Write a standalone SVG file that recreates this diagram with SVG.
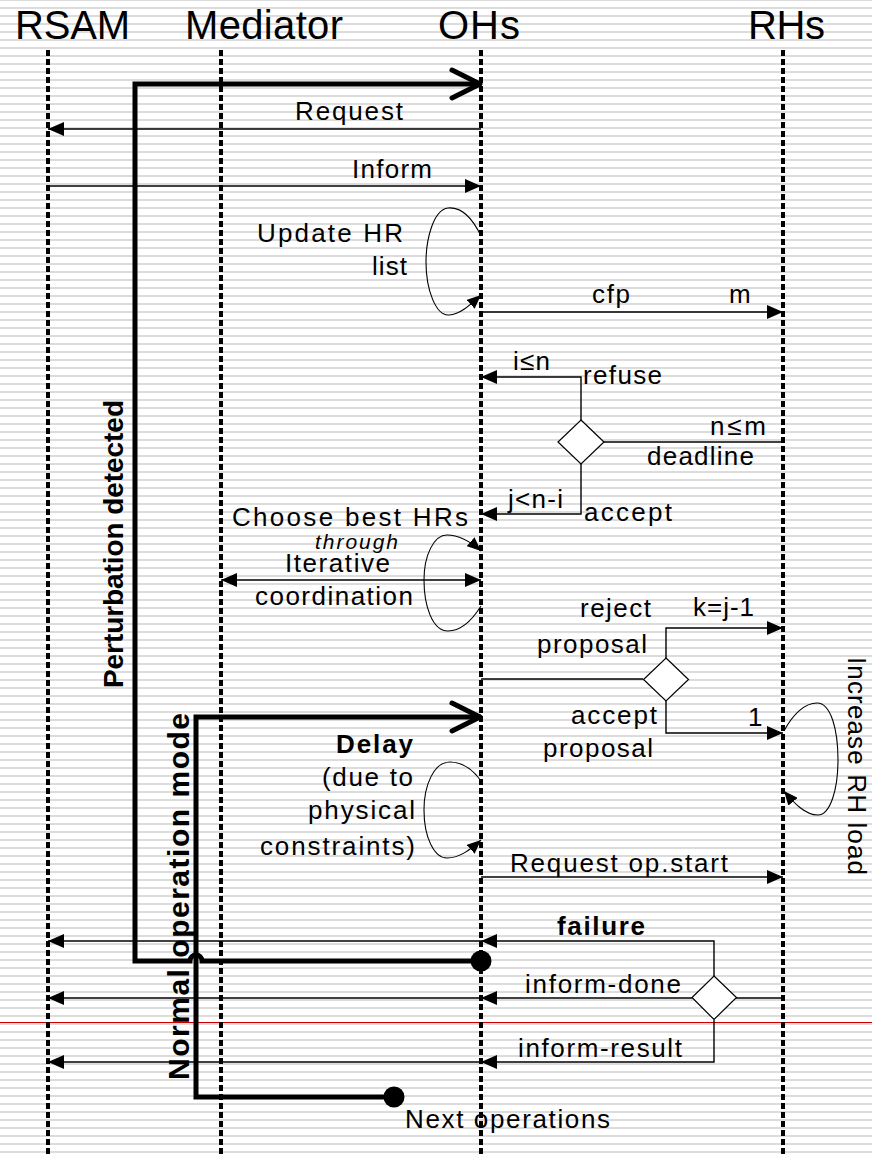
<svg xmlns="http://www.w3.org/2000/svg" width="872" height="1154" viewBox="0 0 872 1154">
<defs>
<pattern id="stripes" width="8" height="8" y="-1" patternUnits="userSpaceOnUse"><rect width="8" height="2" fill="#dcdcdc"/></pattern>
<marker id="ah" viewBox="0 0 16 14" refX="16" refY="7" markerWidth="16" markerHeight="14" markerUnits="userSpaceOnUse" orient="auto-start-reverse"><path d="M0,0 L16,7 L0,14 z" fill="#000"/></marker>
<marker id="ahs" viewBox="0 0 14 12" refX="14" refY="6" markerWidth="14" markerHeight="12" markerUnits="userSpaceOnUse" orient="auto"><path d="M0,0 L14,6 L0,12 z" fill="#000"/></marker>
</defs>
<style>
text{font-family:"Liberation Sans",Arial,sans-serif;fill:#000;}
.title{font-size:40px;}
.lbl{font-size:26px;}
.b{font-weight:bold;}
.it{font-style:italic;font-size:21px;}
.life{stroke:#000;stroke-width:4;stroke-dasharray:6 3;fill:none;}
.msg{stroke:#000;stroke-width:1.4;fill:none;}
.msgA{stroke:#000;stroke-width:1.4;fill:none;marker-end:url(#ah);}
.loop{stroke:#000;stroke-width:1.1;fill:none;marker-end:url(#ahs);}
.thick{stroke:#000;stroke-width:5;fill:none;stroke-linejoin:miter;}
.open{stroke:#000;stroke-width:5;fill:none;stroke-linecap:round;stroke-linejoin:round;}
.dia{fill:#fff;stroke:#000;stroke-width:1.2;}
</style>
<rect width="872" height="1154" fill="#fff"/>
<rect width="872" height="1154" fill="url(#stripes)"/>
<line x1="0" y1="1022.5" x2="872" y2="1022.5" stroke="#cc0000" stroke-width="1"/>

<g id="lifeline-rsam">
<text class="title" x="15" y="39" textLength="115" lengthAdjust="spacing">RSAM</text>
<line class="life" x1="48" y1="50" x2="48" y2="1154"/>
</g>
<g id="lifeline-mediator">
<text class="title" x="185" y="39" textLength="158" lengthAdjust="spacing">Mediator</text>
<line class="life" x1="221" y1="50" x2="221" y2="1154"/>
</g>
<g id="lifeline-ohs">
<text class="title" x="438" y="39" textLength="82" lengthAdjust="spacing">OHs</text>
<line class="life" x1="481" y1="50" x2="481" y2="1154"/>
</g>
<g id="lifeline-rhs">
<text class="title" x="748" y="39" textLength="77" lengthAdjust="spacing">RHs</text>
<line class="life" x1="783" y1="50" x2="783" y2="1154"/>
</g>

<g id="connectors">
<path class="msgA" d="M481,129 H48"/>
<path class="msgA" d="M48,186 H481"/>
<path class="loop" d="M481,236 C470,213 458,207 448,208 C433,210 426,240 426,262 C426,290 436,316 449,315 C461,314 471,304 481,295"/>
<path class="msgA" d="M481,312 H783"/>
<path class="msgA" d="M581,421 V377 H481"/>
<path class="msg" d="M604,442 H783"/>
<path class="msgA" d="M581,463 V514 H481"/>
<path class="loop" d="M481,606 C471,622 460,631 448,631 C432,631 424,605 424,580 C424,555 434,535 447,535 C460,535 472,543 481,551"/>
<path class="msgA" style="marker-start:url(#ah)" d="M221,580 H481"/>
<path class="msg" d="M481,679 H643"/>
<path class="msgA" d="M666,658 V628 H783"/>
<path class="msgA" d="M666,701 V733 H783"/>
<path class="loop" d="M784,731 C793,714 805,703 817,703 C831,703 838,730 838,760 C838,790 830,815 818,815 C805,815 794,803 784,791"/>
<path class="loop" d="M481,781 C471,767 460,762 450,762 C434,762 424,785 424,810 C424,837 434,858 447,858 C460,858 471,849 481,840"/>
<path class="msgA" d="M481,877 H783"/>
<path class="msg" d="M783,998 H736"/>
<path class="msgA" d="M714,976 V941 H481"/>
<path class="msgA" d="M481,941 H48"/>
<path class="msgA" d="M692,998 H481"/>
<path class="msgA" d="M481,998 H48"/>
<path class="msgA" d="M714,1020 V1062 H481"/>
<path class="msgA" d="M481,1062 H48"/>
<path class="thick" d="M481,84 H135 V961 H190 A6,6 0 0 1 202,961 H481"/>
<path class="open" d="M452,70 L480,84 L452,98"/>
<circle cx="481" cy="961" r="10.5" fill="#000"/>
<path class="thick" d="M481,717 H196 V1097 H394"/>
<path class="open" d="M452,703 L480,717 L452,731"/>
<circle cx="394" cy="1097" r="10.5" fill="#000"/>
</g>

<g id="decision-responses">
<path class="dia" d="M581,420 L604,442 L581,464 L558,442 z"/>
</g>
<g id="decision-proposal">
<path class="dia" d="M666,658 L688.5,679.5 L666,701 L643.5,679.5 z"/>
</g>
<g id="decision-result">
<path class="dia" d="M714,976 L736.5,997.5 L714,1019.5 L692,997.5 z"/>
</g>

<g id="labels">
<text class="lbl" x="295" y="120" textLength="108" lengthAdjust="spacing">Request</text>
<text class="lbl" x="352" y="178" textLength="80" lengthAdjust="spacing">Inform</text>
<text class="lbl" x="257" y="242" textLength="146" lengthAdjust="spacing">Update HR</text>
<text class="lbl" x="372" y="275" textLength="35" lengthAdjust="spacing">list</text>
<text class="lbl" x="592" y="303" textLength="38" lengthAdjust="spacing">cfp</text>
<text class="lbl" x="729" y="303" textLength="21" lengthAdjust="spacing">m</text>
<text class="lbl" x="513" y="370" textLength="37" lengthAdjust="spacing">i≤n</text>
<text class="lbl" x="583" y="384" textLength="79" lengthAdjust="spacing">refuse</text>
<text class="lbl" x="710" y="435" textLength="56" lengthAdjust="spacing">n≤m</text>
<text class="lbl" x="647" y="465" textLength="107" lengthAdjust="spacing">deadline</text>
<text class="lbl" x="508" y="508" textLength="55" lengthAdjust="spacing">j&lt;n-i</text>
<text class="lbl" x="584" y="521" textLength="88" lengthAdjust="spacing">accept</text>
<text class="lbl" x="232" y="526" textLength="236" lengthAdjust="spacing">Choose best HRs</text>
<text class="it" x="315" y="549" textLength="83" lengthAdjust="spacing">through</text>
<text class="lbl" x="285" y="572" textLength="105" lengthAdjust="spacing">Iterative</text>
<text class="lbl" x="255" y="605" textLength="158" lengthAdjust="spacing">coordination</text>
<text class="lbl" x="580" y="617" textLength="71" lengthAdjust="spacing">reject</text>
<text class="lbl" x="537" y="653" textLength="110" lengthAdjust="spacing">proposal</text>
<text class="lbl" x="693" y="616" textLength="61" lengthAdjust="spacing">k=j-1</text>
<text class="lbl" x="571" y="724" textLength="86" lengthAdjust="spacing">accept</text>
<text class="lbl" x="543" y="757" textLength="110" lengthAdjust="spacing">proposal</text>
<text class="lbl" x="748" y="726">1</text>
<text class="lbl b" x="336" y="753" textLength="77" lengthAdjust="spacing">Delay</text>
<text class="lbl" x="322" y="786" textLength="91" lengthAdjust="spacing">(due to</text>
<text class="lbl" x="308" y="819" textLength="107" lengthAdjust="spacing">physical</text>
<text class="lbl" x="260" y="855" textLength="155" lengthAdjust="spacing">constraints)</text>
<text class="lbl" x="510" y="872" textLength="218" lengthAdjust="spacing">Request op.start</text>
<text class="lbl b" x="557" y="935" textLength="88" lengthAdjust="spacing">failure</text>
<text class="lbl" x="525" y="993" textLength="156" lengthAdjust="spacing">inform-done</text>
<text class="lbl" x="518" y="1057" textLength="164" lengthAdjust="spacing">inform-result</text>
<text class="lbl" x="405" y="1128" textLength="205" lengthAdjust="spacing">Next operations</text>
<text class="lbl" transform="translate(848,657) rotate(90)" x="0" y="0" textLength="218" lengthAdjust="spacing">Increase RH load</text>
<text class="b" style="font-size:28px" transform="translate(123,688) rotate(-90)" x="0" y="0" textLength="288" lengthAdjust="spacing">Perturbation detected</text>
<text class="b" style="font-size:30px" transform="translate(189,1080) rotate(-90)" x="0" y="0" textLength="367" lengthAdjust="spacing">Normal operation mode</text>
</g>
</svg>
